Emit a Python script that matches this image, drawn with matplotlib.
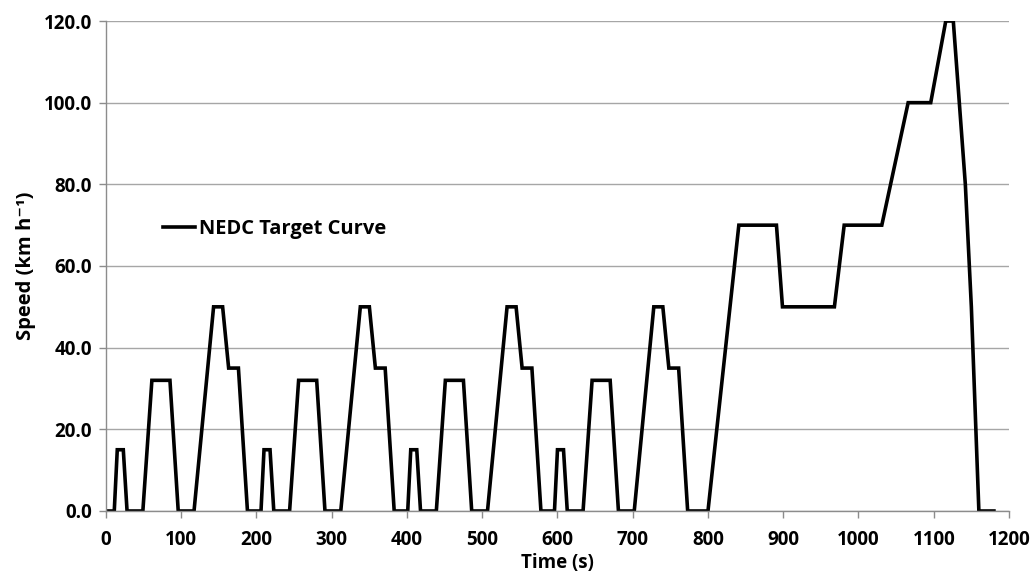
import matplotlib
matplotlib.use("Agg")
import matplotlib.pyplot as plt

# NEDC speed profile: breakpoints (time in s, speed in km/h)
ece_time = [0, 11, 15, 23, 28, 49, 61, 85, 96, 117, 143, 155, 163, 176, 188, 195]
ece_speed = [0, 0, 15, 15, 0, 0, 32, 32, 0, 0, 50, 50, 35, 35, 0, 0]
eudc_time = [800, 841, 891, 899, 968, 981, 1031, 1066, 1096, 1116, 1126, 1142, 1150, 1160, 1180]
eudc_speed = [0, 70, 70, 50, 50, 70, 70, 100, 100, 120, 120, 80, 50, 0, 0]
ece_repeats = 4
ece_period = 195

x_ticks = list(range(0, 1201, 100))
y_ticks = [0, 20, 40, 60, 80, 100, 120]

times, speeds = [], []
for k in range(ece_repeats):
    for t, v in zip(ece_time, ece_speed):
        tt = t + k * ece_period
        if times and tt == times[-1]:
            continue
        times.append(tt)
        speeds.append(v)
times += eudc_time
speeds += eudc_speed

font = ["Open Sans", "DejaVu Sans"]
plt.rcParams["font.family"] = font
plt.rcParams["font.weight"] = "bold"

fig = plt.figure(figsize=(10.34, 5.77), dpi=100)
ax = fig.add_axes([0.1025, 0.1144, 0.8733, 0.8492])

ax.plot(times, speeds, color="black", lw=2.6, label="NEDC Target Curve",
        solid_joinstyle="miter")

ax.set_xlim(0, 1200)
ax.set_ylim(0, 120)
ax.set_xticks(x_ticks)
ax.set_yticks(y_ticks)
ax.set_yticklabels([f"{v:.1f}" for v in y_ticks])
ax.grid(axis="y", color="#a6a6a6", lw=1.0)
ax.set_axisbelow(True)
for side in ("top", "right"):
    ax.spines[side].set_visible(False)
for side in ("left", "bottom"):
    ax.spines[side].set_color("#8c8c8c")
    ax.spines[side].set_linewidth(1.0)
ax.tick_params(axis="both", direction="out", length=5, width=1.0, color="#8c8c8c",
               labelsize=13.5)
ax.tick_params(axis="x", pad=9)
ax.tick_params(axis="y", pad=5)
for lab in ax.get_xticklabels() + ax.get_yticklabels():
    lab.set_fontweight("bold")

ax.set_xlabel("Time (s)", fontsize=13.5, fontweight="bold", labelpad=2)
ax.set_ylabel("Speed (km h\u207b\u00b9)", fontsize=14.5, fontweight="bold", labelpad=6)

leg = ax.legend(loc="center left", bbox_to_anchor=(0.043, 0.575), frameon=False,
                handlelength=1.6, handletextpad=0.2,
                prop={"weight": "bold", "size": 14.5})

fig.savefig("out.png", dpi=100)
